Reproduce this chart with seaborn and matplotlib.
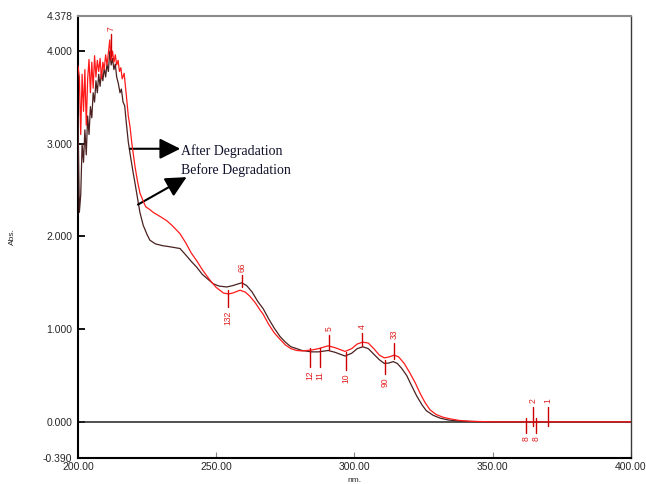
import numpy as np
import pandas as pd
import matplotlib
matplotlib.use("Agg")
import matplotlib.pyplot as plt
import seaborn as sns

# ---- spectra (wavelength in nm, absorbance) ----
before_nm = [200.0, 200.5, 201.0, 201.5, 202.0, 202.5, 203.0, 203.5, 204.0, 204.5,
             205.0, 205.5, 206.0, 206.5, 207.0, 207.5, 208.0, 208.5, 209.0, 209.5,
             210.0, 210.5, 211.0, 211.5, 212.0, 212.5, 213.0, 213.5, 214.0, 214.6,
             215.2, 215.7, 216.3, 216.9, 217.5, 218.2, 218.8, 220.0, 220.6, 221.5,
             222.4, 223.6, 225.0, 226.0, 228.0, 230.7, 233.0, 236.9, 239.0, 241.0,
             242.9, 245.0, 248.9, 251.0, 253.8, 256.0, 259.2, 261.0, 263.0, 265.0,
             267.0, 269.0, 271.0, 273.1, 275.0, 277.0, 279.1, 281.0, 284.5, 287.0,
             290.5, 293.0, 296.6, 299.0, 301.0, 303.0, 305.0, 307.0, 309.0, 310.8,
             312.5, 314.0, 315.5, 317.0, 318.9, 320.5, 322.5, 324.5, 326.0, 328.5,
             331.0, 334.0, 338.0, 345.0, 350.0, 400.0]
before_abs = [3.30, 2.26, 2.45, 3.00, 2.80, 3.15, 2.88, 3.30, 3.10, 3.40,
              3.28, 3.55, 3.45, 3.68, 3.55, 3.75, 3.62, 3.78, 3.68, 3.82,
              3.72, 3.86, 3.78, 4.00, 3.85, 3.92, 3.80, 3.86, 3.72, 3.65,
              3.55, 3.59, 3.45, 3.41, 3.22, 3.02, 2.90, 2.68, 2.58, 2.42,
              2.26, 2.12, 2.02, 1.96, 1.92, 1.90, 1.89, 1.87, 1.80, 1.73,
              1.67, 1.59, 1.49, 1.465, 1.455, 1.47, 1.50, 1.47, 1.40, 1.30,
              1.22, 1.11, 1.01, 0.92, 0.86, 0.81, 0.79, 0.77, 0.755, 0.755,
              0.77, 0.75, 0.71, 0.74, 0.79, 0.81, 0.79, 0.73, 0.67, 0.63,
              0.635, 0.65, 0.63, 0.58, 0.50, 0.40, 0.28, 0.18, 0.12, 0.07,
              0.04, 0.02, 0.008, 0.002, 0.0, 0.0]

after_nm = [200.0, 200.5, 201.0, 201.5, 202.0, 202.5, 203.0, 203.5, 204.0, 204.5,
            205.0, 205.5, 206.0, 206.5, 207.0, 207.5, 208.0, 208.5, 209.0, 209.5,
            210.0, 210.5, 211.0, 211.5, 212.0, 212.5, 213.0, 213.5, 214.0, 214.5,
            215.0, 215.5, 216.0, 216.7, 217.5, 218.2, 218.8, 219.5, 220.6, 221.5,
            222.4, 223.6, 224.5, 226.0, 227.2, 230.0, 232.1, 234.0, 236.9, 239.0,
            241.0, 242.9, 245.0, 247.7, 250.0, 252.6, 254.4, 256.0, 258.6, 260.5,
            262.0, 264.0, 266.0, 267.0, 269.0, 271.0, 273.1, 275.0, 277.0, 279.1,
            281.0, 284.5, 287.0, 290.5, 293.0, 296.6, 299.0, 301.0, 303.0, 305.0,
            307.0, 309.0, 310.8, 312.5, 314.4, 316.0, 318.0, 320.0, 322.0, 323.7,
            325.5, 327.3, 329.5, 332.0, 335.0, 338.0, 342.0, 350.0, 400.0]
after_abs = [3.84, 3.72, 3.10, 3.75, 3.35, 3.80, 3.20, 3.70, 3.91, 3.55,
             3.88, 3.60, 3.95, 3.72, 3.90, 3.78, 3.92, 3.70, 3.88, 3.80,
             3.96, 3.85, 3.98, 4.12, 3.90, 4.00, 3.88, 3.96, 3.85, 3.90,
             3.78, 3.82, 3.70, 3.76, 3.52, 3.30, 3.19, 3.00, 2.76, 2.60,
             2.47, 2.38, 2.32, 2.29, 2.26, 2.21, 2.17, 2.12, 2.03, 1.93,
             1.82, 1.74, 1.64, 1.53, 1.45, 1.39, 1.38, 1.39, 1.42, 1.40,
             1.36, 1.29, 1.20, 1.16, 1.05, 0.96, 0.89, 0.83, 0.79, 0.77,
             0.765, 0.775, 0.79, 0.82, 0.80, 0.76, 0.79, 0.84, 0.86, 0.85,
             0.79, 0.72, 0.69, 0.70, 0.72, 0.70, 0.63, 0.53, 0.42, 0.31,
             0.21, 0.13, 0.08, 0.05, 0.03, 0.015, 0.006, 0.0, 0.0]

# ---- peak / valley pick labels: wavelength, text, label height, side ----
pick_nm = [211.8, 254.2, 259.2, 284.0, 287.6, 290.8, 297.0, 302.9, 311.0, 314.4,
           364.5, 370.0, 362.2, 365.6]
pick_text = ["7", "132", "66", "12", "11", "5", "10", "4", "90", "33",
             "2", "1", "8", "8"]
pick_y = [4.22, 1.20, 1.62, 0.55, 0.55, 0.98, 0.52, 1.00, 0.48, 0.89,
          0.20, 0.20, -0.16, -0.16]
pick_up = [True, False, True, False, False, True, False, True, False, True,
           True, True, False, False]

y_ticks = [-0.390, 0.0, 1.0, 2.0, 3.0, 4.0, 4.378]
x_ticks = [200.0, 250.0, 300.0, 350.0, 400.0]

RED = "#ff1a1a"
DARK = "#4a2020"

before = pd.DataFrame({"nm": before_nm, "Abs.": before_abs})
after = pd.DataFrame({"nm": after_nm, "Abs.": after_abs})

sns.set_style("white")
plt.rcParams["font.family"] = ["Liberation Sans", "DejaVu Sans"]

fig = plt.figure(figsize=(6.46, 4.84), dpi=100)
ax = fig.add_axes([0.1207, 0.0537, 0.8560, 0.9132])

# baseline at zero absorbance
ax.axhline(0.0, color="#222222", lw=1.1, zorder=1)

sns.lineplot(data=before, x="nm", y="Abs.", ax=ax, color=DARK, lw=0.9,
             estimator=None, sort=False, zorder=3)
sns.lineplot(data=after, x="nm", y="Abs.", ax=ax, color=RED, lw=0.9,
             estimator=None, sort=False, zorder=4)

# pick markers and their numbers
for nm, txt, yl, up in zip(pick_nm, pick_text, pick_y, pick_up):
    ya = np.interp(nm, after_nm, after_abs)
    yb = np.interp(nm, before_nm, before_abs)
    if up:
        yc = max(ya, yb)
        ax.plot([nm, nm], [yc - 0.04, yl - 0.04], color="#cc0000", lw=1.0, zorder=5)
        va = "bottom"
    else:
        yc = min(ya, yb)
        ax.plot([nm, nm], [yc + 0.04, yl + 0.04], color="#cc0000", lw=1.0, zorder=5)
        va = "top"
    ax.text(nm, yl, txt, rotation=90, color="#e02020", fontsize=6.2,
            ha="center", va=va, zorder=6)

# degradation annotations
ax.annotate("", xy=(237.0, 2.946), xytext=(218.8, 2.946),
            arrowprops=dict(arrowstyle="-|>,head_length=0.9,head_width=0.45",
                            color="black", lw=1.5, mutation_scale=14,
                            shrinkA=0, shrinkB=0))
ax.annotate("", xy=(239.3, 2.64), xytext=(221.7, 2.344),
            arrowprops=dict(arrowstyle="-|>,head_length=0.9,head_width=0.45",
                            color="black", lw=1.5, mutation_scale=14,
                            shrinkA=0, shrinkB=0))
ax.text(237.3, 2.925, "After Degradation", family=["Liberation Serif"],
        fontsize=10, color="#10102a", ha="left", va="center")
ax.text(237.3, 2.72, "Before Degradation", family=["Liberation Serif"],
        fontsize=10, color="#10102a", ha="left", va="center")

ax.set_xlim(200, 400)
ax.set_ylim(-0.390, 4.378)
ax.set_xticks(x_ticks)
ax.set_xticklabels([f"{v:.2f}" for v in x_ticks])
ax.set_yticks(y_ticks)
ax.set_yticklabels([f"{v:.3f}" for v in y_ticks])
ax.tick_params(axis="y", direction="in", length=5, width=1.3, color="black",
               labelsize=7.5, pad=4, left=True)
ax.tick_params(axis="x", direction="in", length=4, width=0.8, color="#888888",
               labelsize=7.5, pad=3, bottom=True)

ax.set_xlabel("nm.", fontsize=6)
ax.xaxis.set_label_coords(0.5, -0.043)
ax.set_ylabel("Abs.", fontsize=6)
ax.yaxis.set_label_coords(-0.112, 0.5)

for side in ("left", "bottom"):
    ax.spines[side].set_color("black")
    ax.spines[side].set_linewidth(1.5)
ax.spines["top"].set_color("#8a8a8a")
ax.spines["top"].set_linewidth(1.5)
ax.spines["right"].set_color("#3a3a3a")
ax.spines["right"].set_linewidth(1.0)

fig.savefig("out.png", dpi=100)
